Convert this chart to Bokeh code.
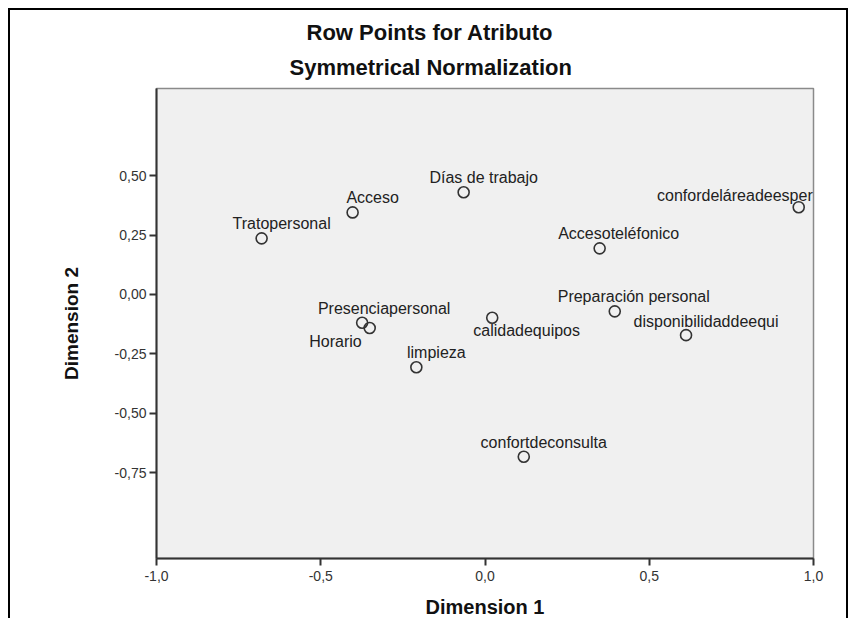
from bokeh.plotting import figure
from bokeh.models import ColumnDataSource, FixedTicker, Range1d, Title
from bokeh.core.properties import value
from bokeh.embed import file_html
from bokeh.resources import INLINE

# ---- data ----
attributes = ["Tratopersonal", "Acceso", "Días de trabajo", "confordeláreadeesper",
              "Accesoteléfonico", "Presenciapersonal", "Horario", "calidadequipos",
              "Preparación personal", "disponibilidaddeequi", "limpieza", "confortdeconsulta"]
dim1 = [-0.680, -0.403, -0.065, 0.955, 0.349, -0.374, -0.351, 0.022, 0.395, 0.612, -0.209, 0.118]
dim2 = [0.236, 0.345, 0.430, 0.367, 0.194, -0.119, -0.141, -0.098, -0.071, -0.171, -0.306, -0.682]

x_ticks = [-1.0, -0.5, 0.0, 0.5, 1.0]
x_tick_labels = ["-1,0", "-0,5", "0,0", "0,5", "1,0"]
y_ticks = [-0.75, -0.5, -0.25, 0.0, 0.25, 0.5]
y_tick_labels = ["-0,75", "-0,50", "-0,25", "0,00", "0,25", "0,50"]

title_text = "Row Points for Atributo"
subtitle_text = "Symmetrical Normalization"

# ---- label placement (styles, screen pixels) ----
label_dx = [20, 20, 20, 14, 19, 22, -8, -19, 19, 20, 20, 20]
label_dy = [-15, -15, -15, -12, -15, -14, 13, 13, -15, -14, -15, -14]
label_align = ["center", "center", "center", "right", "center", "center",
               "right", "left", "center", "center", "center", "center"]

FONT = "Liberation Sans"

src = ColumnDataSource(dict(x=dim1, y=dim2, name=attributes,
                            dx=label_dx, dy=label_dy, align=label_align))

p = figure(width=840, height=610,
           x_range=Range1d(-1.0, 1.0), y_range=Range1d(-1.11, 0.866),
           output_backend="svg", toolbar_location=None,
           min_border_left=146, min_border_right=37,
           min_border_top=78, min_border_bottom=60)

p.styles = {"margin-left": "8px", "margin-top": "8px",
            "border-top": "2px solid black", "border-left": "2px solid black",
            "border-right": "2px solid black"}

p.background_fill_color = "#f0f0f0"
p.border_fill_color = "white"
p.outline_line_color = "#8a8a8a"
p.outline_line_width = 1.5
p.grid.visible = False

# titles: p.title is the outer one, the added Title sits next to the frame
p.title.text = title_text
p.title.text_font = FONT
p.title.text_font_size = "22px"
p.title.text_font_style = "bold"
p.title.text_color = "#111111"
p.title.align = "left"
p.title.offset = 150
p.title.standoff = 0
p.add_layout(Title(text=subtitle_text, text_font=FONT, text_font_size="22px",
                   text_font_style="bold", text_color="#111111", align="left",
                   offset=133, standoff=17), "above")

# axes
for ax in (p.xaxis[0], p.yaxis[0]):
    ax.axis_line_color = "#333333"
    ax.axis_line_width = 2
    ax.major_tick_line_color = "#333333"
    ax.major_tick_line_width = 2
    ax.major_tick_in = 0
    ax.major_tick_out = 7
    ax.minor_tick_line_color = None
    ax.major_label_text_font = FONT
    ax.major_label_text_font_size = "14px"
    ax.major_label_text_color = "#333333"
    ax.axis_label_text_font = FONT
    ax.axis_label_text_font_style = "bold"
    ax.axis_label_text_color = "#111111"

p.xaxis.axis_label_text_font_size = "20px"
p.yaxis.axis_label_text_font_size = "19px"
p.xaxis.ticker = FixedTicker(ticks=x_ticks)
p.xaxis.major_label_overrides = dict(zip(x_ticks, x_tick_labels))
p.yaxis.ticker = FixedTicker(ticks=y_ticks)
p.yaxis.major_label_overrides = dict(zip(y_ticks, y_tick_labels))
p.xaxis.axis_label = "Dimension 1"
p.yaxis.axis_label = "Dimension 2"
p.xaxis.major_label_standoff = 5
p.xaxis.axis_label_standoff = 12
p.yaxis.major_label_standoff = 3
p.yaxis.axis_label_standoff = 30

# points
p.scatter("x", "y", source=src, marker="circle", size=11,
          fill_color=None, line_color="#333333", line_width=1.6)

# labels
p.text("x", "y", text="name", source=src, x_offset="dx", y_offset="dy",
       text_align="align", text_baseline="middle",
       text_font=value(FONT), text_font_size="16px", text_color="#222222")

open("out.html", "w").write(file_html(p, INLINE))
